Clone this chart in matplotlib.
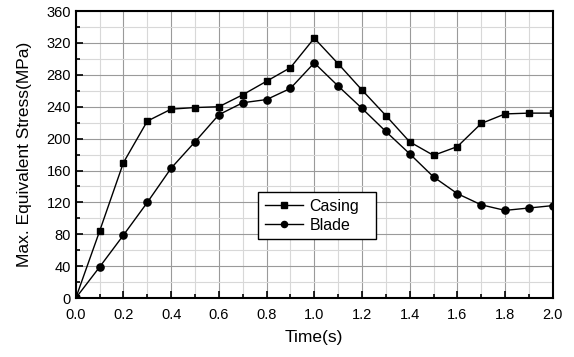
import matplotlib
matplotlib.use('Agg')
import matplotlib.pyplot as plt
from matplotlib.ticker import MultipleLocator

time = [0.0, 0.1, 0.2, 0.3, 0.4, 0.5, 0.6, 0.7, 0.8, 0.9, 1.0,
        1.1, 1.2, 1.3, 1.4, 1.5, 1.6, 1.7, 1.8, 1.9, 2.0]
casing = [0, 84, 170, 222, 237, 239, 240, 255, 272, 289, 326,
          294, 261, 229, 196, 179, 190, 219, 231, 232, 232]
blade = [0, 39, 79, 120, 163, 196, 230, 245, 249, 263, 295,
         266, 238, 209, 181, 152, 131, 117, 110, 113, 116]

plt.rcParams['font.family'] = ['Liberation Sans', 'DejaVu Sans']

fig = plt.figure(figsize=(5.74, 3.57), dpi=100)
ax = fig.add_axes([0.132, 0.165, 0.831, 0.804])

ax.plot(time, casing, color='black', linewidth=1, marker='s', markersize=4.8, label='Casing')
ax.plot(time, blade, color='black', linewidth=1, marker='o', markersize=5.2, label='Blade')

ax.set_xlim(0, 2.0)
ax.set_ylim(0, 360)
ax.xaxis.set_major_locator(MultipleLocator(0.2))
ax.xaxis.set_minor_locator(MultipleLocator(0.1))
ax.yaxis.set_major_locator(MultipleLocator(40))
ax.yaxis.set_minor_locator(MultipleLocator(20))
ax.xaxis.set_major_formatter(plt.FormatStrFormatter('%.1f'))

ax.grid(which='major', color='#9a9a9a', linewidth=0.8)
ax.grid(which='minor', color='#d8d8d8', linewidth=0.8)
ax.set_axisbelow(True)

ax.tick_params(which='both', direction='in', top=False, right=False, labelsize=10.5, width=1.2)
ax.tick_params(which='major', length=5)
ax.tick_params(which='minor', length=3)
ax.tick_params(axis='x', pad=7)
for s in ax.spines.values():
    s.set_linewidth(1.5)

ax.set_xlabel('Time(s)', fontsize=12.5, labelpad=6)
ax.set_ylabel('Max. Equivalent Stress(MPa)', fontsize=12.5, labelpad=10)

leg = ax.legend(loc='lower left', bbox_to_anchor=(0.383, 0.206, 0.246, 0.177), mode='expand',
                borderaxespad=0, fontsize=11.5, fancybox=False, framealpha=1, edgecolor='black',
                handlelength=2.4, handletextpad=0.4, borderpad=0.4, labelspacing=0.25,
                markerscale=0.85)
leg.get_frame().set_linewidth(1)

fig.savefig('out.png', dpi=100)
